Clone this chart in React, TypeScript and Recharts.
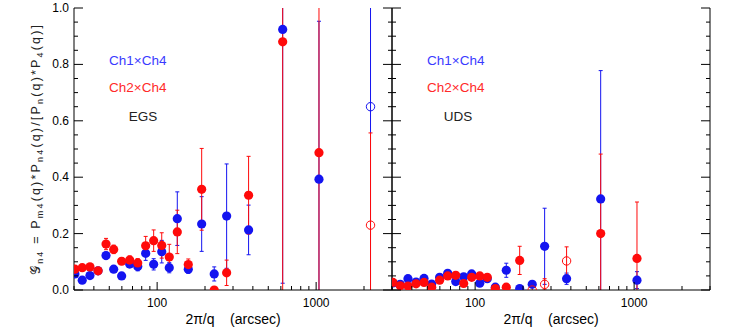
import React from 'react';
import { ScatterChart, Scatter, XAxis, YAxis, ErrorBar } from 'recharts';

const W = 747;
const H = 332;
const TOP = 8;
const BOTTOM_AXIS = 42;
const BLUE = '#1414f0';
const RED = '#ff0a0a';
const FONT = '"Liberation Sans", Arial, sans-serif';

// angular scale 2pi/q (arcsec), shared by both fields
const scaleArcsec = [30.4, 33.8, 37.8, 42.5, 47.7, 53.3, 59.8, 67.2, 75.5, 84.7, 95.1, 106.9, 119.2, 133.9, 157, 190.6, 228.6, 273.6, 376, 616, 1042, 2198];

// EGS
const egsCh1 = [0.057, 0.035, 0.051, 0.068, 0.122, 0.074, 0.05, 0.092, 0.083, 0.13, 0.091, 0.136, 0.079, 0.253, 0.074, 0.234, 0.057, 0.262, 0.213, 0.924, 0.393, 0.65];
const egsCh1Err = [0.01, 0.01, 0.01, 0.01, 0.012, 0.01, 0.008, 0.012, 0.015, 0.025, 0.02, 0.04, 0.018, 0.095, 0.015, 0.097, 0.025, 0.185, 0.088, 0.9, 0.56, 0.7];
const egsCh2 = [0.074, 0.079, 0.082, 0.068, 0.163, 0.144, 0.102, 0.106, 0.096, 0.157, 0.175, 0.158, 0.117, 0.206, 0.09, 0.357, 0.0, 0.061, 0.336, 0.88, 0.487, 0.23];
const egsCh2Err = [0.01, 0.01, 0.01, 0.01, 0.02, 0.015, 0.012, 0.015, 0.015, 0.033, 0.038, 0.045, 0.045, 0.077, 0.02, 0.145, 0.01, 0.045, 0.138, 1.0, 0.7, 0.327];
const egsOpenCh1 = [21];
const egsOpenCh2 = [21];

// UDS
const udsCh1 = [0.025, 0.02, 0.04, 0.028, 0.041, 0.021, 0.045, 0.059, 0.03, 0.047, 0.057, 0.024, 0.04, 0.01, 0.07, 0.005, 0.02, 0.155, 0.04, 0.323, 0.035];
const udsCh1Err = [0.01, 0.008, 0.01, 0.008, 0.008, 0.008, 0.008, 0.008, 0.008, 0.008, 0.01, 0.008, 0.008, 0.008, 0.025, 0.005, 0.01, 0.135, 0.02, 0.455, 0.03];
const udsCh2 = [0.027, 0.015, 0.014, 0.022, 0.027, 0.01, 0.035, 0.05, 0.052, 0.023, 0.045, 0.05, 0.045, 0.005, 0.01, 0.105, 0.0, 0.02, 0.103, 0.2, 0.112];
const udsCh2Err = [0.008, 0.006, 0.006, 0.006, 0.006, 0.006, 0.008, 0.008, 0.008, 0.008, 0.01, 0.012, 0.01, 0.005, 0.006, 0.05, 0.01, 0.02, 0.05, 0.282, 0.2];
const udsOpenCh1: number[] = [];
const udsOpenCh2 = [16, 17, 18];

const xTicks = [30, 40, 50, 60, 70, 80, 90, 100, 200, 300, 400, 500, 600, 700, 800, 900, 1000, 2000, 3000];
const xMajor = [100, 1000];
const yTicks = [0, 0.05, 0.1, 0.15, 0.2, 0.25, 0.3, 0.35, 0.4, 0.45, 0.5, 0.55, 0.6, 0.65, 0.7, 0.75, 0.8, 0.85, 0.9, 0.95, 1.0];
const yMajor = [0, 0.2, 0.4, 0.6, 0.8, 1.0];

function series(vals: number[], errs: number[], open: number[], wantOpen: boolean) {
  return vals
    .map((v, i) => ({ x: scaleArcsec[i], y: v, err: errs[i], open: open.includes(i) }))
    .filter(d => d.open === wantOpen);
}

function allPts(vals: number[], errs: number[]) {
  return vals.map((v, i) => ({ x: scaleArcsec[i], y: v, err: errs[i] }));
}

const isMajorY = (v: number) => yMajor.some(m => Math.abs(m - v) < 1e-6);

function xTick(side: 'top' | 'bottom') {
  return (p: any) => {
    const v = p.payload.value;
    const major = xMajor.includes(v);
    const len = major ? 8 : 4;
    const dir = side === 'top' ? 1 : -1;
    return (
      <g>
        <line x1={p.x} x2={p.x} y1={p.y} y2={p.y + dir * len} stroke="#000" strokeWidth={1} />
        {side === 'bottom' && major && (
          <text x={p.x} y={p.y + 17} textAnchor="middle" fontSize={12} fontFamily={FONT} fill="#000">{v}</text>
        )}
      </g>
    );
  };
}

function yTick(side: 'left' | 'right', labels: boolean) {
  return (p: any) => {
    const v = p.payload.value;
    const major = isMajorY(v);
    const len = major ? 9 : 4;
    const dir = side === 'left' ? 1 : -1;
    return (
      <g>
        <line x1={p.x} x2={p.x + dir * len} y1={p.y} y2={p.y} stroke="#000" strokeWidth={1} />
        {labels && side === 'left' && major && (
          <text x={p.x - 5} y={p.y + 4} textAnchor="end" fontSize={12} fontFamily={FONT} fill="#000">{v.toFixed(1)}</text>
        )}
      </g>
    );
  };
}

const dot = (color: string, open: boolean, clip: string) => (p: any) => {
  if (p.cx == null || p.cy == null) return <g />;
  return open
    ? <circle cx={p.cx} cy={p.cy} r={4.2} fill="none" stroke={color} strokeWidth={1} clipPath={clip} />
    : <circle cx={p.cx} cy={p.cy} r={4.6} fill={color} clipPath={clip} />;
};
const none = () => <g />;

interface PanelProps {
  id: string;
  leftW: number;
  rightW: number;
  labels: boolean;
  ch1: number[]; ch1Err: number[]; open1: number[];
  ch2: number[]; ch2Err: number[]; open2: number[];
}

function Panel({ id, leftW, rightW, labels, ch1, ch1Err, open1, ch2, ch2Err, open2 }: PanelProps) {
  const axisLine = { stroke: '#000', strokeWidth: 1 };
  const clip = `url(#${id})`;
  const xCommon = {
    dataKey: 'x', type: 'number' as const, scale: 'log' as const, domain: [30, 3000], allowDataOverflow: true,
    ticks: xTicks, interval: 0, tickSize: 0, tickMargin: 0, tickLine: false, axisLine,
  };
  const yCommon = {
    dataKey: 'y', type: 'number' as const, domain: [0, 1], allowDataOverflow: true,
    ticks: yTicks, interval: 0, tickSize: 0, tickMargin: 0, tickLine: false, axisLine,
  };
  return (
    <div style={{ position: 'absolute', left: 0, top: 0 }}>
      <svg width={0} height={0} style={{ position: 'absolute' }}>
        <defs>
          <clipPath id={id}>
            <rect x={leftW} y={TOP} width={W - leftW - rightW} height={H - TOP - BOTTOM_AXIS} />
          </clipPath>
        </defs>
      </svg>
      <ScatterChart width={W} height={H} margin={{ top: TOP, right: 0, bottom: 0, left: 0 }}>
        <XAxis xAxisId="b" orientation="bottom" height={BOTTOM_AXIS} tick={xTick('bottom')} {...xCommon} />
        <XAxis xAxisId="t" orientation="top" height={0} tick={xTick('top')} {...xCommon} />
        <YAxis yAxisId="l" orientation="left" width={leftW} tick={yTick('left', labels)} {...yCommon} />
        <YAxis yAxisId="r" orientation="right" width={rightW} tick={yTick('right', false)} {...yCommon} />
        <Scatter xAxisId="b" yAxisId="l" data={allPts(ch1, ch1Err)} shape={none} isAnimationActive={false}>
          <ErrorBar dataKey="err" direction="y" width={2} stroke={BLUE} strokeWidth={1} clipPath={clip} isAnimationActive={false} />
        </Scatter>
        <Scatter xAxisId="b" yAxisId="l" data={allPts(ch2, ch2Err)} shape={none} isAnimationActive={false}>
          <ErrorBar dataKey="err" direction="y" width={2} stroke={RED} strokeWidth={1} clipPath={clip} isAnimationActive={false} />
        </Scatter>
        <Scatter xAxisId="b" yAxisId="l" data={series(ch1, ch1Err, open1, false)} shape={dot(BLUE, false, clip)} isAnimationActive={false} />
        <Scatter xAxisId="b" yAxisId="l" data={series(ch1, ch1Err, open1, true)} shape={dot(BLUE, true, clip)} isAnimationActive={false} />
        <Scatter xAxisId="b" yAxisId="l" data={series(ch2, ch2Err, open2, false)} shape={dot(RED, false, clip)} isAnimationActive={false} />
        <Scatter xAxisId="b" yAxisId="l" data={series(ch2, ch2Err, open2, true)} shape={dot(RED, true, clip)} isAnimationActive={false} />
      </ScatterChart>
    </div>
  );
}

const txt = (left: number, top: number, color: string, s: string, center = false) => (
  <div style={{
    position: 'absolute', left, top, color, fontFamily: FONT, fontSize: 13.5, lineHeight: '16px',
    whiteSpace: 'pre', transform: center ? 'translateX(-50%)' : undefined,
  }}>{s}</div>
);

export default function App() {
  const sub = { fontSize: 9, baselineShift: '-30%' } as any;
  return (
    <div style={{ position: 'absolute', left: 0, top: 0, width: W, height: H, background: '#fff', overflow: 'hidden' }}>
      <Panel id="clipEGS" leftW={74} rightW={W - 392} labels
        ch1={egsCh1} ch1Err={egsCh1Err} open1={egsOpenCh1}
        ch2={egsCh2} ch2Err={egsCh2Err} open2={egsOpenCh2} />
      <Panel id="clipUDS" leftW={392} rightW={W - 710} labels={false}
        ch1={udsCh1} ch1Err={udsCh1Err} open1={udsOpenCh1}
        ch2={udsCh2} ch2Err={udsCh2Err} open2={udsOpenCh2} />

      {txt(109, 53, '#3a3aff', 'Ch1×Ch4')}
      {txt(109, 80, '#ff2a2a', 'Ch2×Ch4')}
      {txt(143, 109, '#222', 'EGS', true)}
      {txt(427, 53, '#3a3aff', 'Ch1×Ch4')}
      {txt(427, 80, '#ff2a2a', 'Ch2×Ch4')}
      {txt(458, 109, '#222', 'UDS', true)}

      <div style={{ position: 'absolute', left: 233, top: 311, transform: 'translateX(-50%)', fontFamily: FONT, fontSize: 14, lineHeight: '16px', whiteSpace: 'pre' }}>2π/q    (arcsec)</div>
      <div style={{ position: 'absolute', left: 551, top: 311, transform: 'translateX(-50%)', fontFamily: FONT, fontSize: 14, lineHeight: '16px', whiteSpace: 'pre' }}>2π/q    (arcsec)</div>

      <svg width={70} height={H} style={{ position: 'absolute', left: 0, top: 0 }}>
        <text x={40} y={150} transform="rotate(-90 40 150)" fontFamily={FONT} fontSize={12.5} fill="#222"
          textAnchor="middle" textLength={250} lengthAdjust="spacing">
          <tspan>𝒢</tspan><tspan {...sub}>n4</tspan><tspan> = P</tspan><tspan {...sub}>m4</tspan><tspan>(q)*P</tspan><tspan {...sub}>n4</tspan><tspan>(q)/[P</tspan><tspan {...sub}>n</tspan><tspan>(q)*P</tspan><tspan {...sub}>4</tspan><tspan>(q)]</tspan>
        </text>
      </svg>
    </div>
  );
}
